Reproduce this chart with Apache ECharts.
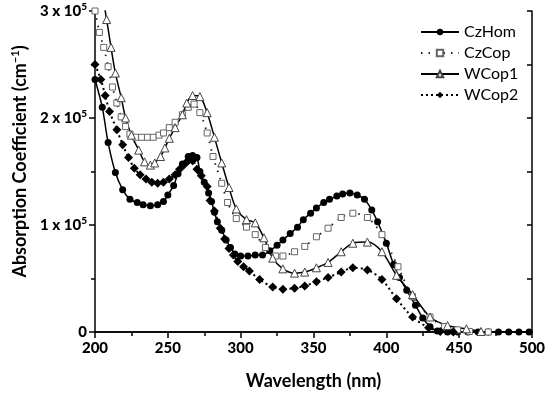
<!DOCTYPE html>
<html>
<head>
<meta charset="utf-8">
<script src="https://cdn.jsdelivr.net/npm/echarts@6/dist/echarts.min.js"></script>
<style>html,body{margin:0;padding:0;background:#fff}#c{width:550px;height:399px}</style>
</head>
<body>
<div id="c"></div>
<script>
// values in units of 10^5 cm^-1, wavelength in nm
const seriesNames = ['CzHom', 'CzCop', 'WCop1', 'WCop2'];
const xTicks = [200, 250, 300, 350, 400, 450, 500];
const yTicks = [0, 1, 2, 3];

const czHom = [[200,2.36],[205,2.10],[209,1.77],[214,1.49],[219,1.33],[224,1.24],[229,1.21],[233,1.19],[238,1.18],[243,1.19],[247,1.22],[250,1.28],[254,1.37],[257,1.48],[260,1.57],[264,1.64],[267,1.65],[270,1.63],[272,1.50],[275,1.40],[278,1.30],[280,1.22],[282,1.12],[284,1.03],[287,0.95],[290,0.86],[293,0.79],[296,0.73],[300,0.71],[305,0.71],[310,0.72],[315,0.72],[320,0.76],[325,0.81],[329,0.86],[334,0.92],[339,0.98],[343,1.05],[348,1.11],[352,1.16],[357,1.21],[361,1.24],[366,1.27],[370,1.29],[375,1.30],[380,1.28],[385,1.24],[390,1.14],[394,1.03],[400,0.83],[405,0.63],[409,0.51],[414,0.39],[420,0.25],[425,0.13],[430,0.05],[435,0.01],[442,0],[449,0],[456,0],[463,0],[470,0],[477,0],[484,0],[491,0],[498,0]];

const czCop = [[200,3.0],[203,2.80],[206,2.66],[209,2.48],[212,2.29],[215,2.14],[218,2.01],[221,1.92],[224,1.85],[228,1.82],[232,1.82],[236,1.82],[240,1.82],[244,1.84],[247,1.86],[251,1.91],[255,1.96],[260,2.03],[264,2.10],[268,2.13],[272,2.05],[277,1.86],[281,1.64],[287,1.39],[291,1.21],[297,1.06],[304,0.98],[310,0.91],[317,0.79],[324,0.71],[329,0.71],[337,0.75],[344,0.80],[352,0.89],[360,0.97],[369,1.07],[377,1.11],[387,1.07],[397,0.91],[408,0.61],[418,0.33],[430,0.14],[440,0.05],[449,0.02],[457,0.005],[470,0]];

const wCop1 = [[200,3.6],[204,3.25],[208,2.92],[211,2.66],[214,2.42],[218,2.19],[221,2.00],[225,1.84],[230,1.70],[234,1.59],[238,1.56],[241,1.58],[245,1.64],[248,1.72],[251,1.81],[255,1.91],[260,2.03],[263,2.14],[267,2.21],[272,2.20],[277,2.05],[282,1.82],[287,1.58],[292,1.35],[297,1.15],[304,1.05],[310,1.02],[316,0.88],[322,0.69],[329,0.59],[337,0.55],[344,0.56],[352,0.60],[360,0.65],[369,0.75],[377,0.83],[387,0.84],[397,0.75],[407,0.53],[418,0.35],[430,0.14],[442,0.06],[455,0.03],[465,0.005]];

const wCop2 = [[200,2.50],[204,2.36],[207,2.21],[210,2.06],[215,1.89],[219,1.75],[223,1.63],[227,1.53],[231,1.47],[235,1.43],[239,1.40],[243,1.39],[247,1.40],[251,1.43],[255,1.47],[258,1.52],[261,1.56],[264,1.60],[267,1.60],[270,1.52],[273,1.46],[277,1.36],[279,1.23],[282,1.13],[286,0.97],[289,0.87],[292,0.78],[295,0.72],[298,0.66],[302,0.61],[306,0.57],[313,0.49],[322,0.42],[329,0.40],[337,0.41],[344,0.43],[352,0.47],[360,0.51],[369,0.56],[377,0.60],[387,0.58],[397,0.49],[407,0.31],[418,0.14],[429,0.04],[437,0.005],[446,0]];

const FONT = 'Lato';
const chart = echarts.init(document.getElementById('c'));
const axisLine = { lineStyle: { color: '#000', width: 1.5 } };

chart.setOption({
  animation: false,
  backgroundColor: '#fff',
  grid: { left: 95, right: 18, top: 11, bottom: 67 },
  legend: {
    orient: 'vertical', left: 415, top: 19,
    itemWidth: 38, itemHeight: 8, itemGap: 5,
    textStyle: { fontFamily: FONT, fontSize: 16, lineHeight: 16, color: '#000' },
    data: seriesNames
  },
  xAxis: [{
    type: 'value', min: xTicks[0], max: xTicks[xTicks.length - 1], interval: 50,
    axisLine: axisLine,
    axisTick: { show: true, inside: false, length: 6, lineStyle: { color: '#000', width: 1.5 } },
    minorTick: { show: true, splitNumber: 2, length: 4, lineStyle: { color: '#000', width: 1.5 } },
    splitLine: { show: false },
    axisLabel: { margin: 9, fontFamily: FONT, fontWeight: 900, fontSize: 15, color: '#000' },
    name: 'Wavelength (nm)', nameLocation: 'middle', nameGap: 40,
    nameTextStyle: { fontFamily: FONT, fontWeight: 'bold', fontSize: 18, color: '#000' }
  }, {
    type: 'value', position: 'top', min: 200, max: 500, interval: 25,
    axisLine: axisLine,
    axisTick: { show: true, inside: true, length: 4, lineStyle: { color: '#000', width: 1.5 } },
    axisLabel: { show: false }, splitLine: { show: false }
  }],
  yAxis: [{
    type: 'value', min: yTicks[0], max: yTicks[yTicks.length - 1], interval: 1,
    axisLine: axisLine,
    axisTick: { show: true, inside: false, length: 6, lineStyle: { color: '#000', width: 1.5 } },
    minorTick: { show: true, splitNumber: 2, length: 4, lineStyle: { color: '#000', width: 1.5 } },
    splitLine: { show: false },
    axisLabel: {
      margin: 8, color: '#000',
      formatter: v => v === 0 ? '{n|0}' : '{n|' + v + ' x 10}{s|5}',
      rich: {
        n: { fontFamily: FONT, fontWeight: 900, fontSize: 15, color: '#000' },
        s: { fontFamily: FONT, fontWeight: 900, fontSize: 10, color: '#000', verticalAlign: 'top', padding: [0, 0, 8, 0] }
      }
    },
    name: '{a|Absorption Coefficient (cm}{s|−1}{a|)}', nameLocation: 'middle', nameGap: 61,
    nameTextStyle: {
      padding: [0, 0, 0, 20],
      rich: {
        a: { fontFamily: FONT, fontWeight: 'bold', fontSize: 18, color: '#000' },
        s: { fontFamily: FONT, fontWeight: 'bold', fontSize: 11, color: '#000', padding: [0, 0, 10, 0] }
      }
    }
  }, {
    type: 'value', position: 'right', min: 0, max: 3, interval: 0.5,
    axisLine: axisLine,
    axisTick: { show: true, inside: true, length: 5, lineStyle: { color: '#000', width: 1.5 } },
    axisLabel: { show: false }, splitLine: { show: false }
  }],
  series: [{
    name: 'CzHom', type: 'line', data: czHom, smooth: 0.3, clip: true,
    symbol: 'circle', symbolSize: 7, showAllSymbol: true,
    itemStyle: { color: '#000' },
    lineStyle: { color: '#000', width: 1.5, type: 'solid' }
  }, {
    name: 'CzCop', type: 'line', data: czCop, smooth: 0.3, clip: true,
    symbol: 'rect', symbolSize: 6, showAllSymbol: true,
    itemStyle: { color: '#fff', borderColor: '#666', borderWidth: 1 },
    lineStyle: { color: '#222', width: 1.8, type: [1.5, 6] }
  }, {
    name: 'WCop1', type: 'line', data: wCop1, smooth: 0.3, clip: true,
    symbol: 'triangle', symbolSize: 8, showAllSymbol: true,
    itemStyle: { color: '#fff', borderColor: '#444', borderWidth: 1 },
    lineStyle: { color: '#000', width: 1.5, type: 'solid' }
  }, {
    name: 'WCop2', type: 'line', data: wCop2, smooth: 0.3, clip: true,
    symbol: 'diamond', symbolSize: 9, showAllSymbol: true,
    itemStyle: { color: '#000' },
    lineStyle: { color: '#000', width: 2, type: [2, 3] }
  }]
});
</script>
</body>
</html>
